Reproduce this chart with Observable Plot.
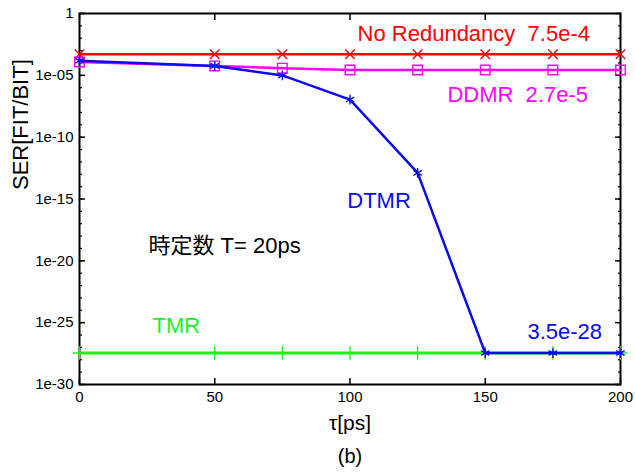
<!DOCTYPE html>
<html>
<head>
<meta charset="utf-8">
<script src="https://cdn.jsdelivr.net/npm/d3@7"></script>
<script src="https://cdn.jsdelivr.net/npm/@observablehq/plot@0.6"></script>
<style>
  html, body { margin: 0; padding: 0; background: white; }
</style>
</head>
<body>
<div id="chart"></div>
<script>
// ---- data ----
const tau = [0, 50, 75, 100, 125, 150, 175, 200];
const noRedundancy = [5.1e-4, 5.1e-4, 5.1e-4, 5.1e-4, 5.1e-4, 5.1e-4, 5.1e-4, 5.1e-4];
const ddmr = [1.2e-4, 5.8e-5, 3.8e-5, 2.7e-5, 2.7e-5, 2.7e-5, 2.7e-5, 2.7e-5];
const dtmr = [1.5e-4, 5.8e-5, 9.8e-6, 1.1e-7, 1.3e-13, 3.5e-28, 3.5e-28, 3.5e-28];
const tmr = [3.5e-28, 3.5e-28, 3.5e-28, 3.5e-28, 3.5e-28, 3.5e-28, 3.5e-28, 3.5e-28];

const xTicks = [0, 50, 100, 150, 200];
const yMajor = [1, 1e-5, 1e-10, 1e-15, 1e-20, 1e-25, 1e-30];
const yLabels = ["1", "1e-05", "1e-10", "1e-15", "1e-20", "1e-25", "1e-30"];
const yMinor = d3.range(0, 31).map(k => Math.pow(10, -k));

const series = [
  {name: "No Redundancy", values: noRedundancy, color: "#ff0000", symbol: "times", r: 4.4, sw: 2.5},
  {name: "DDMR", values: ddmr, color: "#ff00ff", symbol: "square", r: 5.4, sw: 2.5},
  {name: "TMR", values: tmr, color: "#1ef01e", symbol: "plus", r: 4.4, sw: 3},
  {name: "DTMR", values: dtmr, color: "#0a0af0", symbol: "asterisk", r: 4.6, sw: 2.5}
];

const rows = s => tau.map((t, i) => ({x: t, y: s.values[i]}));

const font = "'Liberation Sans', Arial, 'Noto Sans CJK JP', sans-serif";
const blank = () => "";

const marks = [
  Plot.frame({stroke: "black", strokeWidth: 2}),
  // y labels
  Plot.axisY({ticks: yMajor, tickSize: 0, tickPadding: 6, label: null, fontSize: 15,
    tickFormat: d => yLabels[yMajor.indexOf(d)]}),
  // inward ticks left
  Plot.axisY({ticks: yMinor, tickSize: 3, dx: 3, tickFormat: blank, label: null, strokeWidth: 1.2}),
  Plot.axisY({ticks: yMajor, tickSize: 6, dx: 6, tickFormat: blank, label: null, strokeWidth: 1.5}),
  // inward ticks right
  Plot.axisY({anchor: "right", ticks: yMinor, tickSize: 3, dx: -3, tickFormat: blank, label: null, strokeWidth: 1.2}),
  Plot.axisY({anchor: "right", ticks: yMajor, tickSize: 6, dx: -6, tickFormat: blank, label: null, strokeWidth: 1.5}),
  // x labels
  Plot.axisX({ticks: xTicks, tickSize: 0, tickPadding: 7, label: null, fontSize: 15}),
  Plot.axisX({ticks: xTicks, tickSize: 6, dy: -6, tickFormat: blank, label: null, strokeWidth: 1.5}),
  Plot.axisX({anchor: "top", ticks: xTicks, tickSize: 6, dy: 6, tickFormat: blank, label: null, strokeWidth: 1.5})
];

for (const s of series) {
  marks.push(Plot.line(rows(s), {x: "x", y: "y", stroke: s.color, strokeWidth: s.sw}));
  marks.push(Plot.dot(rows(s), {x: "x", y: "y", symbol: s.symbol, r: s.r, stroke: s.color, fill: "none", strokeWidth: 1.4}));
}

// annotations
const ann = (txt, x, y, color, size = 22) =>
  Plot.text([txt], {x: () => x, y: () => y, text: d => d, fill: color, fontSize: size, textAnchor: "start", lineAnchor: "middle"});

marks.push(
  ann("No Redundancy  7.5e-4", 102.8, 0.024, "#ff0000"),
  ann("DDMR  2.7e-5", 136, 2.8e-7, "#ff00ff"),
  ann("DTMR", 99, 7.6e-16, "#0a0af0"),
  ann("時定数 T= 20ps", 25.5, 1.7e-19, "black"),
  ann("TMR", 27, 5.9e-26, "#1ef01e"),
  ann("3.5e-28", 165.6, 1.9e-26, "#0a0af0"),
  Plot.text(["SER[FIT/BIT]"], {frameAnchor: "left", rotate: -90, dx: -59, dy: -9, fontSize: 22, fill: "black"}),
  Plot.text(["τ[ps]"], {frameAnchor: "bottom", dy: 45, fontSize: 21, fill: "black"}),
  Plot.text(["(b)"], {frameAnchor: "bottom", dy: 78, fontSize: 20, fill: "black"})
);

const chart = Plot.plot({
  width: 635,
  height: 475,
  marginLeft: 79,
  marginRight: 15,
  marginTop: 13,
  marginBottom: 91,
  style: {fontFamily: font, fontSize: "15px", background: "white", color: "black", overflow: "visible"},
  x: {domain: [0, 200]},
  y: {type: "log", domain: [1e-30, 1]},
  marks
});

document.getElementById("chart").appendChild(chart);
</script>
</body>
</html>
